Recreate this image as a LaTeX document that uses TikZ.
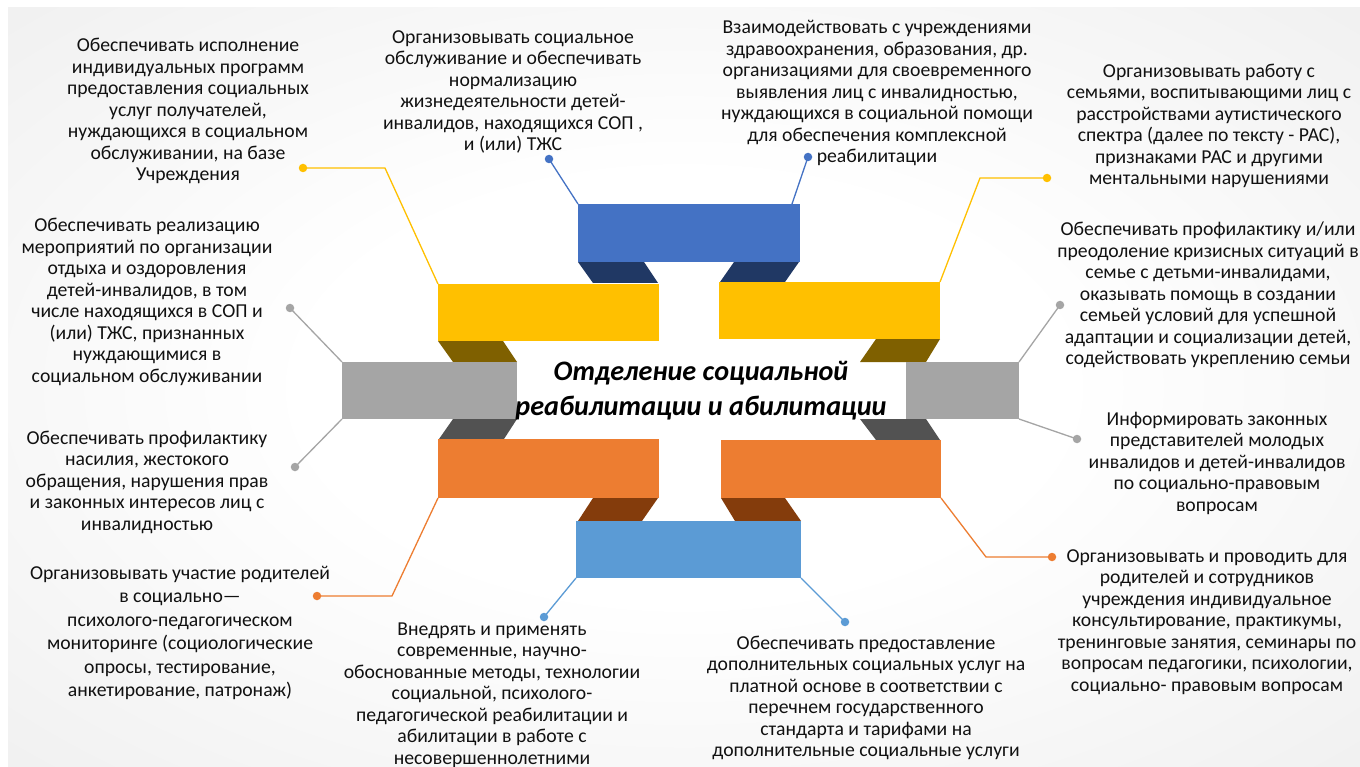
\documentclass[tikz,border=0pt]{standalone}
\usepackage{fontspec}
\setmainfont{Carlito}
\definecolor{cBlue}{HTML}{4472C4}
\definecolor{cNavy}{HTML}{203864}
\definecolor{cYel}{HTML}{FFC000}
\definecolor{cOlive}{HTML}{7F6000}
\definecolor{cGray}{HTML}{A5A5A5}
\definecolor{cDGray}{HTML}{525252}
\definecolor{cOr}{HTML}{ED7D31}
\definecolor{cBrown}{HTML}{843C0C}
\definecolor{cLBlue}{HTML}{5B9BD5}
\definecolor{cTxt}{HTML}{111111}
\pgfdeclareradialshading{bgrad}{\pgfpoint{0bp}{0bp}}{color(0bp)=(white); color(14bp)=(white); color(71bp)=(black!15)}
\tikzset{
  blk/.style={inner sep=0pt, outer sep=0pt, anchor=north west, fill=#1, draw=none},
  txt/.style={align=center, font=\fontsize{19.7}{21.5}\selectfont, text=cTxt, inner sep=0pt},
  dotn/.style={circle, fill=#1, draw=none, minimum size=8.5pt, inner sep=0pt},
  con/.style={draw=#1, line width=1.3pt},
}
\begin{document}
\begin{tikzpicture}[x=1pt,y=-1pt]
\useasboundingbox (0,0) rectangle (1360,767);
\fill[white] (0,0) rectangle (1360,767);
\shade[shading=bgrad] (8,8) rectangle (1360,767);

% folds
\fill[cNavy] (578,262) -- (644,262) -- (658,283) -- (593,283) -- cycle;
\fill[cNavy] (734,262) -- (799,262) -- (785,282) -- (720,282) -- cycle;
\fill[cOlive] (438,341) -- (503,341) -- (517,362) -- (453,362) -- cycle;
\fill[cOlive] (876,339) -- (940,339) -- (926,362) -- (860,362) -- cycle;
\fill[cDGray] (453,419) -- (517,419) -- (504,439) -- (439,439) -- cycle;
\fill[cDGray] (860,419) -- (926,419) -- (940,440) -- (876,440) -- cycle;
\fill[cBrown] (593,498) -- (658,498) -- (642,521) -- (578,521) -- cycle;
\fill[cBrown] (721,498) -- (785,498) -- (801,521) -- (735,521) -- cycle;

% blocks
\node[blk=cBlue, minimum width=222pt, minimum height=58pt] (bt) at (578,204) {};
\node[blk=cYel, minimum width=221pt, minimum height=57pt] (yl) at (438,284) {};
\node[blk=cYel, minimum width=221pt, minimum height=57pt] (yr) at (719,282) {};
\node[blk=cGray, minimum width=175pt, minimum height=57pt] (gl) at (342,362) {};
\node[blk=cGray, minimum width=113pt, minimum height=57pt] (gr) at (906,362) {};
\node[blk=cOr, minimum width=221pt, minimum height=59pt] (ol) at (438,439) {};
\node[blk=cOr, minimum width=220pt, minimum height=58pt] (orr) at (721,440) {};
\node[blk=cLBlue, minimum width=225pt, minimum height=57pt] (bb) at (576,521) {};

% title
\node[align=center, inner sep=0pt, text=black, font=\fontsize{28.2}{35}\selectfont\bfseries\itshape] (title) at (701,391)
  {Отделение социальной\\реабилитации и абилитации};

% texts
\node[txt] (tA) at (188,111) {Обеспечивать исполнение\\индивидуальных программ\\предоставления социальных\\услуг получателей,\\нуждающихся в социальном\\обслуживании, на базе\\Учреждения};
\node[txt] (tB) at (513,92) {Организовывать социальное\\обслуживание и обеспечивать\\нормализацию\\жизнедеятельности детей-\\инвалидов, находящихся СОП ,\\и (или) ТЖС};
\node[txt] (tC) at (877,93) {Взаимодействовать с учреждениями\\здравоохранения, образования, др.\\организациями для своевременного\\выявления лиц с инвалидностью,\\нуждающихся в социальной помощи\\для обеспечения комплексной\\реабилитации};
\node[txt] (tD) at (1209,126) {Организовывать работу с\\семьями, воспитывающими лиц с\\расстройствами аутистического\\спектра (далее по тексту - РАС),\\признаками РАС и другими\\ментальными нарушениями};
\node[txt] (tE) at (147,302) {Обеспечивать реализацию\\мероприятий по организации\\отдыха и оздоровления\\детей-инвалидов, в том\\числе находящихся в СОП и\\(или) ТЖС, признанных\\нуждающимися в\\социальном обслуживании};
\node[txt] (tF) at (147,482) {Обеспечивать профилактику\\насилия, жестокого\\обращения, нарушения прав\\и законных интересов лиц с\\инвалидностью};
\node[txt] (tG) at (1208,295) {Обеспечивать профилактику и/или\\преодоление кризисных ситуаций в\\семье с детьми-инвалидами,\\оказывать помощь в создании\\семьей условий для успешной\\адаптации и социализации детей,\\содействовать укреплению семьи};
\node[txt] (tH) at (1217,463) {Информировать законных\\представителей молодых\\инвалидов и детей-инвалидов\\по социально-правовым\\вопросам};
\node[txt, font=\fontsize{19.7}{23.4}\selectfont] (tI) at (180,633) {Организовывать участие родителей\\в социально—\\психолого-педагогическом\\мониторинге (социологические\\опросы, тестирование,\\анкетирование, патронаж)};
\node[txt] (tJ) at (492,695) {Внедрять и применять\\современные, научно-\\обоснованные методы, технологии\\социальной, психолого-\\педагогической реабилитации и\\абилитации в работе с\\несовершеннолетними};
\node[txt] (tK) at (866,698) {Обеспечивать предоставление\\дополнительных социальных услуг на\\платной основе в соответствии с\\перечнем государственного\\стандарта и тарифами на\\дополнительные социальные услуги};
\node[txt] (tL) at (1207,622) {Организовывать и проводить для\\родителей и сотрудников\\учреждения индивидуальное\\консультирование, практикумы,\\тренинговые занятия, семинары по\\вопросам педагогики, психологии,\\социально- правовым вопросам};

% dots
\node[dotn=cYel] (d1) at (303,168) {};
\node[dotn=cBlue] (d2) at (549,159) {};
\node[dotn=cBlue] (d3) at (808,157) {};
\node[dotn=cYel] (d4) at (1047,178) {};
\node[dotn=cGray] (d5) at (290,308) {};
\node[dotn=cGray] (d6) at (295,467) {};
\node[dotn=cGray] (d7) at (1060,305) {};
\node[dotn=cGray] (d8) at (1077,439) {};
\node[dotn=cOr] (d9) at (317,596) {};
\node[dotn=cLBlue] (d10) at (544,617) {};
\node[dotn=cLBlue] (d11) at (845,622) {};
\node[dotn=cOr] (d12) at (1052,557) {};

\coordinate (k1) at (385,168);
\coordinate (k4) at (980,178);
\coordinate (k9) at (392,596);
\coordinate (k12) at (986,557);

% connectors
\draw[con=cYel] (d1.center) -- (k1) -- (yl.north west);
\draw[con=cBlue] (d2.center) -- (bt.north west);
\draw[con=cBlue] (d3.center) -- ([xshift=-8pt]bt.north east);
\draw[con=cYel] (d4.center) -- (k4) -- (yr.north east);
\draw[con=cGray] (d5.center) -- (gl.north west);
\draw[con=cGray] (d6.center) -- (gl.south west);
\draw[con=cGray] (d7.center) -- (gr.north east);
\draw[con=cGray] (d8.center) -- (gr.south east);
\draw[con=cOr] (d9.center) -- (k9) -- (ol.south west);
\draw[con=cLBlue] (d10.center) -- (bb.south west);
\draw[con=cLBlue] (d11.center) -- (bb.south east);
\draw[con=cOr] (d12.center) -- (k12) -- (orr.south east);
\end{tikzpicture}
\end{document}
